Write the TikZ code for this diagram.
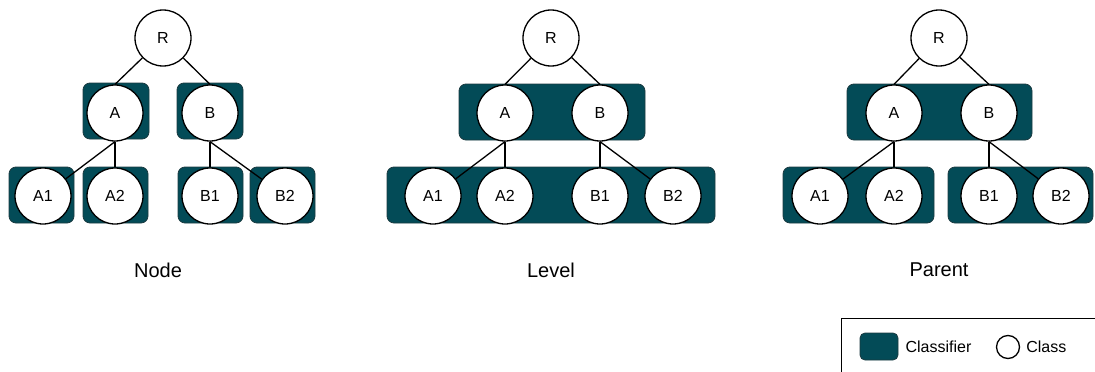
\documentclass[tikz,border=0pt]{standalone}
\usepackage{fontspec}
\setmainfont{Liberation Sans}
\usepackage{xcolor}
\usepackage{tikz}
\usetikzlibrary{positioning}

\definecolor{clfteal}{HTML}{034B57}
\definecolor{clfedge}{HTML}{1B3A40}

\begin{document}
\begin{tikzpicture}[
    x=1pt, y=-1pt,
    cls/.style={circle, draw, line width=1.3pt, fill=white, minimum size=56pt,
      inner sep=0pt, font=\fontsize{16}{19}\selectfont},
    clf/.style={draw=clfedge, fill=clfteal, rounded corners=7pt, line width=0.8pt,
      minimum height=56pt, inner sep=0pt},
    link/.style={line width=1.3pt},
    caption/.style={font=\fontsize{20}{24}\selectfont},
    legendtext/.style={font=\fontsize{16}{19}\selectfont, anchor=west, inner sep=0pt}
  ]
  \useasboundingbox (0,0) rectangle (1095,372);

  % classifiers: one per node
  \node[clf, minimum width=66pt] (nAbox)  at (116,111)   {};
  \node[clf, minimum width=66pt] (nBbox)  at (210,111)   {};
  \node[clf, minimum width=65pt] (nA1box) at (41.5,195)  {};
  \node[clf, minimum width=65pt] (nA2box) at (115.5,195) {};
  \node[clf, minimum width=65pt] (nB1box) at (210.5,195) {};
  \node[clf, minimum width=65pt] (nB2box) at (282.5,195) {};

  % classifiers: one per level
  \node[clf, minimum width=186pt] (lTopbox) at (552,112) {};
  \node[clf, minimum width=328pt] (lBotbox) at (551,195) {};

  % classifiers: one per parent
  \node[clf, minimum width=185pt] (pRbox) at (939.5,112)  {};
  \node[clf, minimum width=151pt] (pAbox) at (858.5,195)  {};
  \node[clf, minimum width=145pt] (pBbox) at (1020.5,195) {};

  % the same class tree three times
  \foreach \p/\r/\a/\b/\aa/\bb in {
      n/163/115/210/43/285,
      l/551/505/600/433/673,
      p/939/894/989/820/1061}{
    \node[cls] (\p R)  at (\r,38)  {R};
    \node[cls] (\p A)  at (\a,113) {A};
    \node[cls] (\p B)  at (\b,113) {B};
    \node[cls] (\p A1) at (\aa,196) {A1};
    \node[cls] (\p A2) at (\a,196) {A2};
    \node[cls] (\p B1) at (\b,196) {B1};
    \node[cls] (\p B2) at (\bb,196) {B2};
    \draw[link] (\p R) -- (\p A.north);
    \draw[link] (\p R) -- (\p B.north);
    \draw[link] (\p A.south) -- (\p A1);
    \draw[link] (\p A.south) -- (\p A2.north);
    \draw[link] (\p B.south) -- (\p B1.north);
    \draw[link] (\p B.south) -- (\p B2);
  }

  \node[caption] (capNode)   at (158,270) {Node};
  \node[caption] (capLevel)  at (551,270) {Level};
  \node[caption] (capParent) at (939,270) {Parent};

  % legend
  \node[draw, line width=0.9pt, minimum width=262pt, minimum height=62pt,
    anchor=north west, inner sep=0pt] (legend) at (841,318) {};
  \node[clf, minimum width=38pt, minimum height=27pt, rounded corners=5pt]
    (keyclf) at (879,346.5) {};
  \node[legendtext, right=7pt of keyclf] (keyclftext) {Classifier};
  \node[circle, draw, line width=1.3pt, minimum size=23pt, inner sep=0pt]
    (keycls) at (1008,347) {};
  \node[legendtext, right=6pt of keycls] (keyclstext) {Class};
\end{tikzpicture}
\end{document}
